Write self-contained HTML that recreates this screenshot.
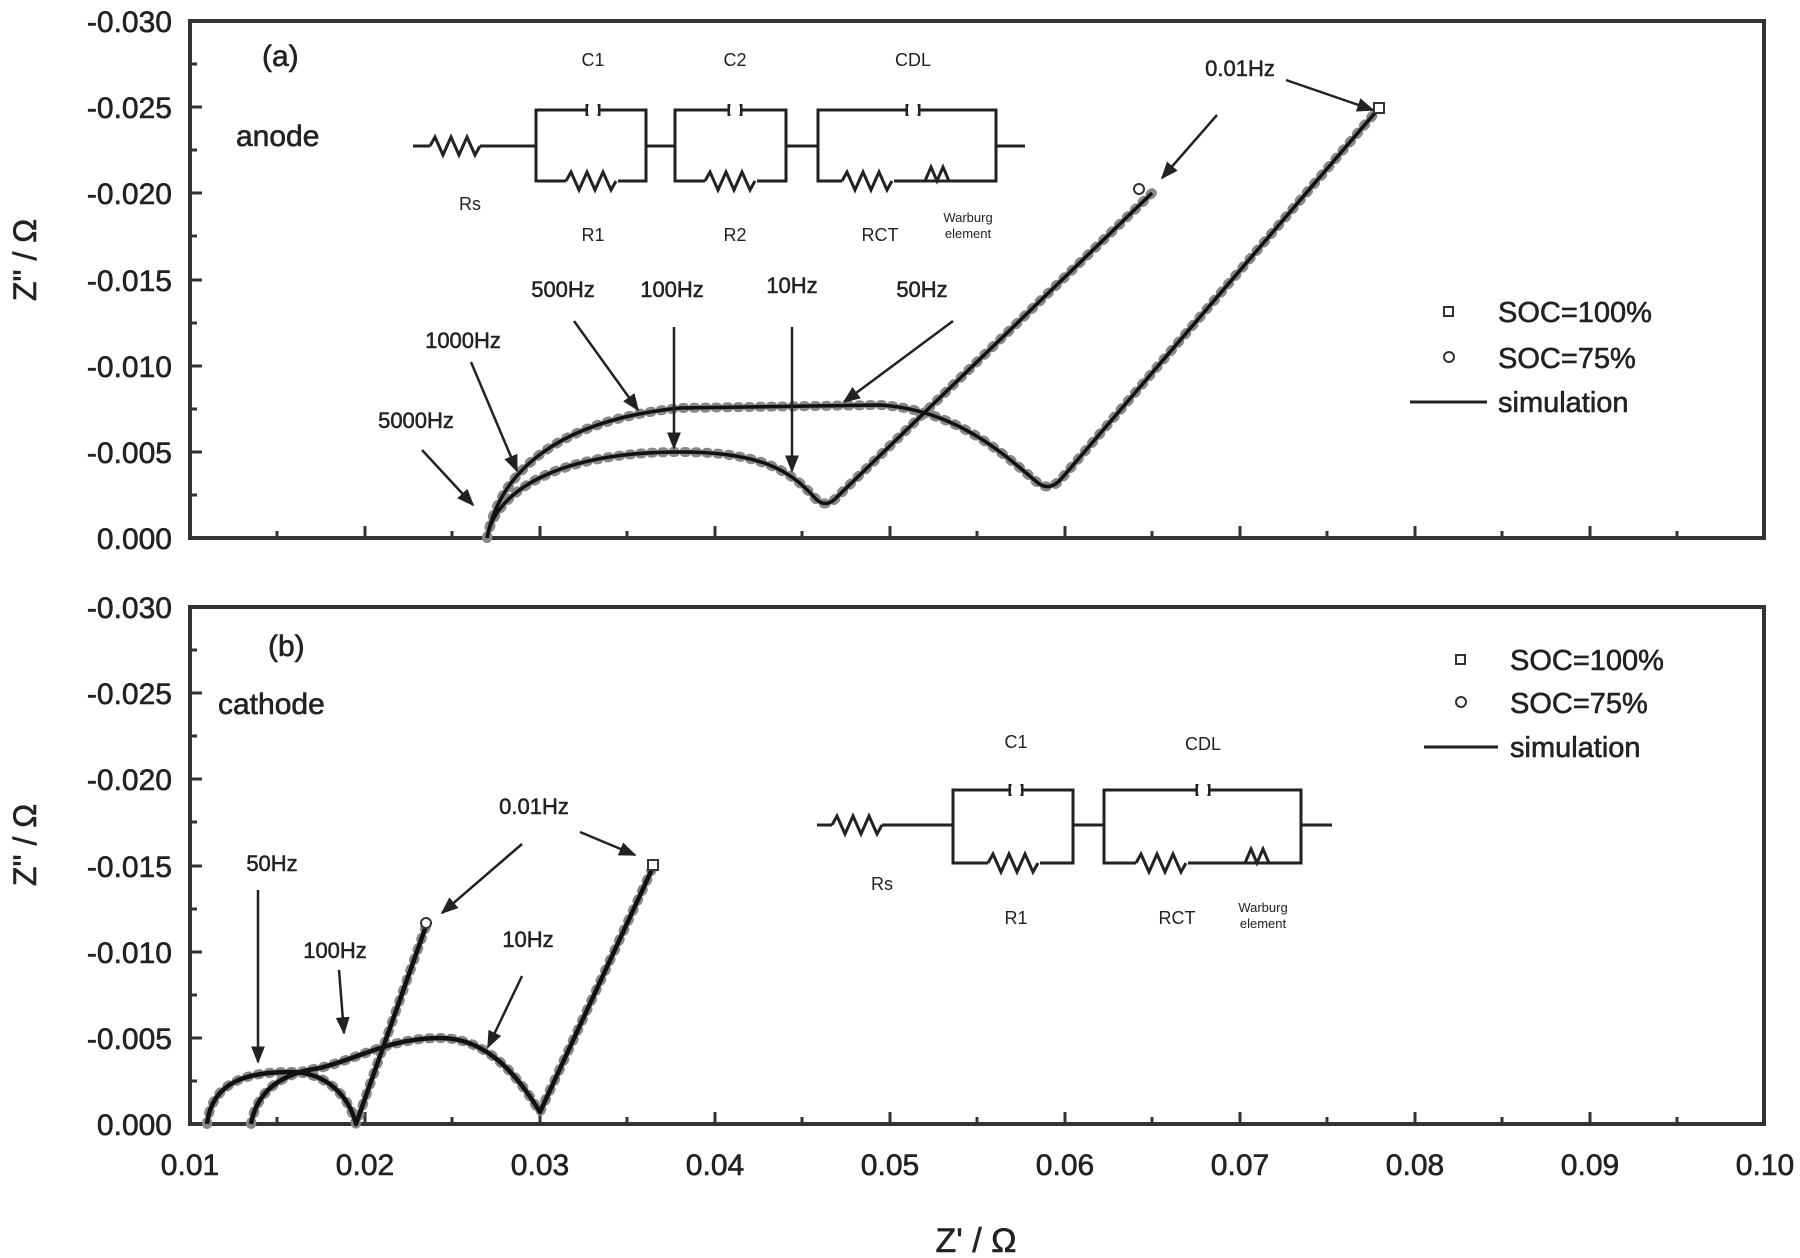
<!DOCTYPE html>
<html><head><meta charset="utf-8"><style>
html,body{margin:0;padding:0;background:#fff;}
svg{display:block;}
text{font-family:"Liberation Sans",sans-serif;fill:#222;}
.t{font-size:30px;stroke:#222;stroke-width:0.6px;}
.a{font-size:22px;stroke:#222;stroke-width:0.5px;}
.l{font-size:29px;stroke:#222;stroke-width:0.6px;}
.c{font-size:18px;}
</style></head><body>
<svg width="1800" height="1258" viewBox="0 0 1800 1258" xmlns="http://www.w3.org/2000/svg">
<defs>
<marker id="ar" viewBox="0 0 10 10" refX="9" refY="5" markerWidth="7" markerHeight="7" orient="auto"><path d="M0,1 L10,5 L0,9 z" fill="#222"/></marker>
<path id="zig" d="M0,0 l5,-9 l8,18 l8,-18 l8,18 l8,-18 l8,18 l5,-9" fill="none" stroke="#222" stroke-width="3"/>
</defs>
<g fill="none" stroke="#333" stroke-width="4">
<rect x="190" y="21" width="1574" height="517"/>
<rect x="190" y="607" width="1574" height="517"/>
</g>
<g stroke="#333" stroke-width="3">
<path d="M365,538v-12M540,538v-12M715,538v-12M890,538v-12M1065,538v-12M1240,538v-12M1415,538v-12M1590,538v-12
M277,538v-7M452,538v-7M627,538v-7M802,538v-7M977,538v-7M1152,538v-7M1327,538v-7M1502,538v-7M1677,538v-7
M365,1124v-12M540,1124v-12M715,1124v-12M890,1124v-12M1065,1124v-12M1240,1124v-12M1415,1124v-12M1590,1124v-12
M277,1124v-7M452,1124v-7M627,1124v-7M802,1124v-7M977,1124v-7M1152,1124v-7M1327,1124v-7M1502,1124v-7M1677,1124v-7
M190,452h12M190,366h12M190,280h12M190,193h12M190,107h12
M190,495h7M190,409h7M190,323h7M190,236h7M190,150h7M190,64h7
M190,1038h12M190,952h12M190,866h12M190,779h12M190,693h12
M190,1081h7M190,995h7M190,909h7M190,822h7M190,736h7M190,650h7"/>
</g>
<g class="t" text-anchor="end">
<text x="172" y="32">-0.030</text><text x="172" y="118">-0.025</text><text x="172" y="204">-0.020</text>
<text x="172" y="291">-0.015</text><text x="172" y="377">-0.010</text><text x="172" y="463">-0.005</text><text x="172" y="549">0.000</text>
<text x="172" y="618">-0.030</text><text x="172" y="704">-0.025</text><text x="172" y="790">-0.020</text>
<text x="172" y="877">-0.015</text><text x="172" y="963">-0.010</text><text x="172" y="1049">-0.005</text><text x="172" y="1135">0.000</text>
</g>
<g class="t" text-anchor="middle">
<text x="190" y="1175">0.01</text><text x="365" y="1175">0.02</text><text x="540" y="1175">0.03</text><text x="715" y="1175">0.04</text>
<text x="890" y="1175">0.05</text><text x="1065" y="1175">0.06</text><text x="1240" y="1175">0.07</text><text x="1415" y="1175">0.08</text>
<text x="1590" y="1175">0.09</text><text x="1765" y="1175">0.10</text>
<text x="976" y="1252" style="font-size:34px">Z' / Ω</text>
</g>
<text class="t" transform="translate(36,260) rotate(-90)" text-anchor="middle" style="font-size:32px">Z'' / Ω</text>
<text class="t" transform="translate(36,845) rotate(-90)" text-anchor="middle" style="font-size:32px">Z'' / Ω</text>

<g fill="none" stroke-linejoin="round">
<path d="M487,538 C495,490 560,452 680,452 C760,452 790,470 815,498 Q826,510 838,496 L1152,193" stroke="#888" stroke-width="10" stroke-dasharray="2 9" stroke-linecap="round"/>
<path d="M487,538 C500,470 560,420 680,408 L880,405 C960,410 1010,460 1038,483 Q1050,492 1062,478 L1380,107" stroke="#888" stroke-width="10" stroke-dasharray="2 9" stroke-linecap="round"/>
<path d="M487,538 C495,490 560,452 680,452 C760,452 790,470 815,498 Q826,510 838,496 L1152,193" stroke="#111" stroke-width="3.5"/>
<path d="M487,538 C500,470 560,420 680,408 L880,405 C960,410 1010,460 1038,483 Q1050,492 1062,478 L1380,107" stroke="#111" stroke-width="3.5"/>
<path d="M207,1124 C212,1080 250,1072 290,1072 C330,1072 350,1100 356,1124 L426,926" stroke="#888" stroke-width="10" stroke-dasharray="2 9" stroke-linecap="round"/>
<path d="M251,1124 C258,1085 290,1072 320,1068 C360,1058 390,1038 440,1038 C490,1038 520,1080 540,1112 L654,865" stroke="#888" stroke-width="10" stroke-dasharray="2 9" stroke-linecap="round"/>
<path d="M207,1124 C212,1080 250,1072 290,1072 C330,1072 350,1100 356,1124 L426,926" stroke="#111" stroke-width="4.5"/>
<path d="M251,1124 C258,1085 290,1072 320,1068 C360,1058 390,1038 440,1038 C490,1038 520,1080 540,1112 L654,865" stroke="#111" stroke-width="4.5"/>
</g>
<rect x="1374" y="103" width="10" height="10" fill="#fff" stroke="#333" stroke-width="2"/>
<circle cx="1139" cy="189" r="5" fill="#fff" stroke="#333" stroke-width="2"/>
<rect x="648" y="860" width="10" height="10" fill="#fff" stroke="#333" stroke-width="2"/>
<circle cx="426" cy="923" r="5" fill="#fff" stroke="#333" stroke-width="2"/>

<g stroke="#222" stroke-width="2.5" marker-end="url(#ar)">
<path d="M1286,80 L1373,110"/><path d="M1217,115 L1162,178"/>
<path d="M574,321 L638,410"/><path d="M674,327 L674,448"/><path d="M792,327 L792,471"/>
<path d="M953,321 L844,402"/><path d="M471,362 L517,471"/><path d="M422,450 L473,505"/>
<path d="M522,844 L442,913"/><path d="M580,832 L635,855"/>
<path d="M258,890 L258,1062"/><path d="M339,970 L344,1033"/><path d="M522,976 L488,1047"/>
</g>
<g class="a" text-anchor="middle">
<text x="1240" y="76">0.01Hz</text>
<text x="563" y="297">500Hz</text><text x="672" y="297">100Hz</text><text x="792" y="293">10Hz</text><text x="922" y="297">50Hz</text>
<text x="463" y="348">1000Hz</text><text x="416" y="428">5000Hz</text>
<text x="534" y="814">0.01Hz</text><text x="272" y="871">50Hz</text><text x="335" y="958">100Hz</text><text x="528" y="947">10Hz</text>
</g>
<text class="t" x="262" y="66">(a)</text>
<text class="t" x="236" y="146">anode</text>
<text class="t" x="268" y="656">(b)</text>
<text class="t" x="218" y="714">cathode</text>

<rect x="1444" y="307" width="9" height="9" fill="#fff" stroke="#333" stroke-width="2"/>
<circle cx="1449" cy="357" r="5" fill="#fff" stroke="#333" stroke-width="2"/>
<line x1="1410" y1="402" x2="1487" y2="402" stroke="#222" stroke-width="3"/>
<g class="l"><text x="1498" y="322">SOC=100%</text><text x="1498" y="368">SOC=75%</text><text x="1498" y="412">simulation</text></g>
<rect x="1456" y="655" width="9" height="9" fill="#fff" stroke="#333" stroke-width="2"/>
<circle cx="1461" cy="702" r="5" fill="#fff" stroke="#333" stroke-width="2"/>
<line x1="1424" y1="747" x2="1498" y2="747" stroke="#222" stroke-width="3"/>
<g class="l"><text x="1510" y="670">SOC=100%</text><text x="1510" y="713">SOC=75%</text><text x="1510" y="757">simulation</text></g>

<g fill="none" stroke="#222" stroke-width="3">
<path d="M413,146 H430 M480,146 H536 M646,146 H675 M786,146 H818 M996,146 H1025"/>
<rect x="536" y="110" width="110" height="71"/>
<rect x="675" y="110" width="111" height="71"/>
<rect x="818" y="110" width="178" height="71"/>
<path d="M587,104v12M599,104v12M729,104v12M741,104v12M907,104v12M919,104v12"/>
<path d="M925,181 l6,-14 l6,14 l6,-14 l6,14"/>
</g>
<g fill="#fff" stroke="none"><rect x="588" y="106" width="10" height="8"/><rect x="730" y="106" width="10" height="8"/><rect x="908" y="106" width="10" height="8"/>
<rect x="566" y="178" width="52" height="6"/><rect x="705" y="178" width="52" height="6"/><rect x="842" y="178" width="52" height="6"/></g>
<use href="#zig" x="430" y="146"/>
<use href="#zig" x="566" y="181"/><use href="#zig" x="705" y="181"/><use href="#zig" x="842" y="181"/>
<g class="c" text-anchor="middle">
<text x="593" y="66">C1</text><text x="735" y="66">C2</text><text x="913" y="66">CDL</text>
<text x="470" y="210">Rs</text><text x="593" y="241">R1</text><text x="735" y="241">R2</text><text x="880" y="241">RCT</text>
<text x="968" y="222" style="font-size:13px">Warburg</text><text x="968" y="238" style="font-size:13px">element</text>
</g>
<g fill="none" stroke="#222" stroke-width="3">
<path d="M817,825 H832 M882,825 H953 M1073,825 H1104 M1301,825 H1332"/>
<rect x="953" y="790" width="120" height="73"/>
<rect x="1104" y="790" width="197" height="73"/>
<path d="M1010,784v12M1022,784v12M1197,784v12M1209,784v12"/>
<path d="M1245,863 l6,-14 l6,14 l6,-14 l6,14"/>
</g>
<g fill="#fff" stroke="none"><rect x="1011" y="786" width="10" height="8"/><rect x="1198" y="786" width="10" height="8"/>
<rect x="988" y="860" width="52" height="6"/><rect x="1136" y="860" width="52" height="6"/></g>
<use href="#zig" x="832" y="825"/>
<use href="#zig" x="988" y="863"/><use href="#zig" x="1136" y="863"/>
<g class="c" text-anchor="middle">
<text x="1016" y="748">C1</text><text x="1203" y="750">CDL</text>
<text x="882" y="890">Rs</text><text x="1016" y="924">R1</text><text x="1177" y="924">RCT</text>
<text x="1263" y="912" style="font-size:13px">Warburg</text><text x="1263" y="928" style="font-size:13px">element</text>
</g>
</svg>
</body></html>
